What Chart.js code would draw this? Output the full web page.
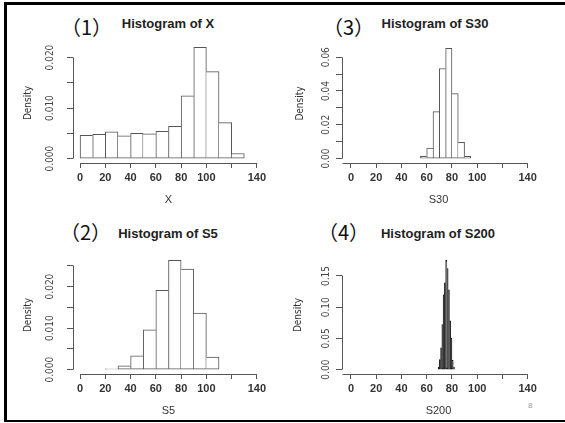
<!DOCTYPE html>
<html>
<head>
<meta charset="utf-8">
<script src="https://cdn.jsdelivr.net/npm/chart.js@4.4.1/dist/chart.umd.min.js"></script>
<style>
  body { margin: 0; background: #fff; width: 565px; height: 423px; position: relative; overflow: hidden; }
  canvas { position: absolute; }
  .rule { position: absolute; background: #000; }
  .num { position: absolute; font: 20px "Noto Sans CJK JP", sans-serif; line-height: 20px; color: #111; white-space: nowrap; }
  .ttl { position: absolute; width: 200px; text-align: center; font: bold 13px "Liberation Sans", Arial, sans-serif; line-height: 13px; color: #222; }
  .page { position: absolute; font: 8px "Liberation Sans", Arial, sans-serif; color: #999; }
</style>
</head>
<body>
<div class="rule" style="left:4px;top:2px;width:561px;height:3px"></div>
<div class="rule" style="left:4px;top:2px;width:3px;height:420px"></div>
<div class="rule" style="left:4px;top:420px;width:561px;height:2px"></div>

<div class="num" style="left:61px;top:17px">（1）</div>
<div class="ttl" style="left:68px;top:17px">Histogram of X</div>
<div class="num" style="left:323px;top:17px">（3）</div>
<div class="ttl" style="left:335px;top:17px">Histogram of S30</div>
<div class="num" style="left:60px;top:222px">（2）</div>
<div class="ttl" style="left:68px;top:227px">Histogram of S5</div>
<div class="num" style="left:318px;top:222px">（4）</div>
<div class="ttl" style="left:338px;top:227px">Histogram of S200</div>
<div class="page" style="left:528px;top:401px">8</div>

<canvas id="c1" width="272" height="204" style="left:8px;top:8px"></canvas>
<canvas id="c3" width="272" height="204" style="left:285px;top:8px"></canvas>
<canvas id="c2" width="272" height="204" style="left:8px;top:216px"></canvas>
<canvas id="c4" width="272" height="204" style="left:285px;top:216px"></canvas>

<script>
// shared x axis ticks
const axisTicks = [0, 20, 40, 60, 80, 100, 120, 140];
const axisTickLabels = ['0', '20', '40', '60', '80', '100', '', '140'];

// (1) X, bin width 10
const xStarts = [0, 10, 20, 30, 40, 50, 60, 70, 80, 90, 100, 110, 120];
const xDensity = [0.0046, 0.0048, 0.0053, 0.0045, 0.0050, 0.0049, 0.0054, 0.0064, 0.0124, 0.0220, 0.0172, 0.0071, 0.0010];
const xYTicks = [0, 0.005, 0.010, 0.015, 0.020];
const xYLabels = ['0.000', '', '0.010', '', '0.020'];

// (2) S5, bin width 10
const s5Starts = [20, 30, 40, 50, 60, 70, 80, 90, 100];
const s5Density = [0.0002, 0.0009, 0.0033, 0.0096, 0.0191, 0.0263, 0.0242, 0.0136, 0.0030];
const s5YTicks = [0, 0.005, 0.010, 0.015, 0.020, 0.025];
const s5YLabels = ['0.000', '', '0.010', '', '0.020', ''];

// (3) S30, bin width 5
const s30Starts = [55, 60, 65, 70, 75, 80, 85, 90];
const s30Density = [0.0013, 0.0063, 0.0278, 0.0533, 0.0652, 0.0384, 0.0096, 0.0013];
const s30YTicks = [0, 0.01, 0.02, 0.03, 0.04, 0.05, 0.06];
const s30YLabels = ['0.00', '', '0.02', '', '0.04', '', '0.06'];

// (4) S200, bin width 1
const s200Starts = [69, 70, 71, 72, 73, 74, 75, 76, 77, 78, 79, 80, 81];
const s200Density = [0.004, 0.016, 0.035, 0.072, 0.120, 0.139, 0.175, 0.162, 0.128, 0.078, 0.050, 0.015, 0.004];
const s200YTicks = [0, 0.05, 0.10, 0.15];
const s200YLabels = ['0.00', '0.05', '0.10', '0.15'];

const narrow = '"Liberation Sans Narrow", "DejaVu Sans Condensed", "Liberation Sans", sans-serif';
const axisColor = '#555';

// R style axis lines: only between first and last tick
const axisLines = {
  id: 'axisLines',
  afterDraw(chart, args, opts) {
    const { ctx, chartArea, scales: { x, y } } = chart;
    const al = v => Math.round(v - 0.5) + 0.5;
    const xt = x.ticks, yt = y.ticks;
    ctx.save();
    ctx.strokeStyle = axisColor;
    ctx.lineWidth = 1;
    ctx.beginPath();
    const by = al(chartArea.bottom);
    const startX = opts.fromEdge ? chartArea.left : x.getPixelForValue(xt[0].value);
    ctx.moveTo(al(startX), by);
    ctx.lineTo(al(x.getPixelForValue(xt[xt.length - 1].value)), by);
    const lx = al(chartArea.left);
    ctx.moveTo(lx, al(y.getPixelForValue(yt[0].value)));
    ctx.lineTo(lx, al(y.getPixelForValue(yt[yt.length - 1].value)));
    ctx.stroke();
    ctx.restore();
  }
};

function drawHist(id, c) {
  const d = c.density;
  const pts = c.starts.map((s, i) => ({ x: s + c.bin / 2, y: d[i] }));
  const last = pts.length - 1;
  // a shared edge is drawn once, by the taller of the two bars
  const edges = ctx => {
    const i = ctx.dataIndex;
    return {
      top: 1, bottom: 1,
      left: (i === 0 || d[i] >= d[i - 1]) ? 1 : 0,
      right: (i === last || d[i] > d[i + 1]) ? 1 : 0
    };
  };
  return new Chart(document.getElementById(id), {
    type: 'bar',
    data: {
      datasets: [{
        data: pts,
        backgroundColor: c.fill,
        borderColor: c.edge,
        borderSkipped: false,
        borderWidth: edges,
        barPercentage: 1,
        categoryPercentage: 1
      }]
    },
    options: {
      responsive: false,
      animation: false,
      layout: { padding: { left: 0, top: c.padTop, right: c.padRight, bottom: 0 } },
      plugins: {
        legend: { display: false },
        tooltip: { enabled: false },
        axisLines: { fromEdge: c.fromEdge }
      },
      scales: {
        x: {
          type: 'linear',
          min: c.xMin,
          max: c.xMax,
          offset: false,
          grid: { offset: false, drawOnChartArea: false, drawTicks: true, tickLength: 5, color: axisColor },
          border: { display: false },
          afterBuildTicks: s => { s.ticks = axisTicks.map(v => ({ value: v })); },
          afterFit: s => { s.height = c.xHeight; },
          ticks: {
            autoSkip: false, maxRotation: 0, padding: 3, color: '#333',
            font: { family: '"Liberation Sans", Arial, sans-serif', size: 11, weight: 'bold' },
            callback: (v, i) => axisTickLabels[i]
          },
          title: {
            display: true, text: c.name, color: '#333',
            font: { family: '"Liberation Sans", Arial, sans-serif', size: 11 },
            padding: { top: 0, bottom: c.xTitlePad }
          }
        },
        y: {
          min: c.yMin,
          max: c.yMax,
          grid: { drawOnChartArea: false, drawTicks: true, tickLength: 6, color: axisColor },
          border: { display: false },
          afterBuildTicks: s => { s.ticks = c.yTicks.map(v => ({ value: v })); },
          afterFit: s => { s.width = c.yWidth; },
          ticks: {
            autoSkip: false, minRotation: 90, maxRotation: 90, crossAlign: 'center',
            padding: c.yTickPad, color: '#444',
            font: { family: narrow, size: 10 },
            callback: (v, i) => c.yLabels[i]
          },
          title: {
            display: true, text: 'Density', color: '#333',
            font: { family: narrow, size: 10 },
            padding: { top: c.yTitlePad, bottom: 0 }
          }
        }
      }
    },
    plugins: [axisLines]
  });
}

drawHist('c1', {
  name: 'X', starts: xStarts, density: xDensity, bin: 10, edge: '#555', fill: '#fff',
  yTicks: xYTicks, yLabels: xYLabels, xMin: -5.6, xMax: 145.6, yMin: -0.00088, yMax: 0.02288,
  padTop: 35, padRight: 16, xHeight: 49, yWidth: 65, xTitlePad: 5, yTitlePad: 14, yTickPad: 4, fromEdge: false
});
drawHist('c3', {
  name: 'S30', starts: s30Starts, density: s30Density, bin: 5, edge: '#555', fill: '#fff',
  yTicks: s30YTicks, yLabels: s30YLabels, xMin: -7.1, xMax: 145.8, yMin: -0.0026, yMax: 0.0678,
  padTop: 36, padRight: 22, xHeight: 49, yWidth: 57, xTitlePad: 5, yTitlePad: 9, yTickPad: 0, fromEdge: true
});
drawHist('c2', {
  name: 'S5', starts: s5Starts, density: s5Density, bin: 10, edge: '#555', fill: '#fff',
  yTicks: s5YTicks, yLabels: s5YLabels, xMin: -5.6, xMax: 145.6, yMin: -0.00105, yMax: 0.02735,
  padTop: 40, padRight: 16, xHeight: 46, yWidth: 65, xTitlePad: 2, yTitlePad: 14, yTickPad: 4, fromEdge: false
});
drawHist('c4', {
  name: 'S200', starts: s200Starts, density: s200Density, bin: 1, edge: '#111', fill: '#555',
  yTicks: s200YTicks, yLabels: s200YLabels, xMin: -7.1, xMax: 145.8, yMin: -0.007, yMax: 0.182,
  padTop: 40, padRight: 22, xHeight: 46, yWidth: 57, xTitlePad: 2, yTitlePad: 7, yTickPad: 0, fromEdge: true
});
</script>
</body>
</html>
